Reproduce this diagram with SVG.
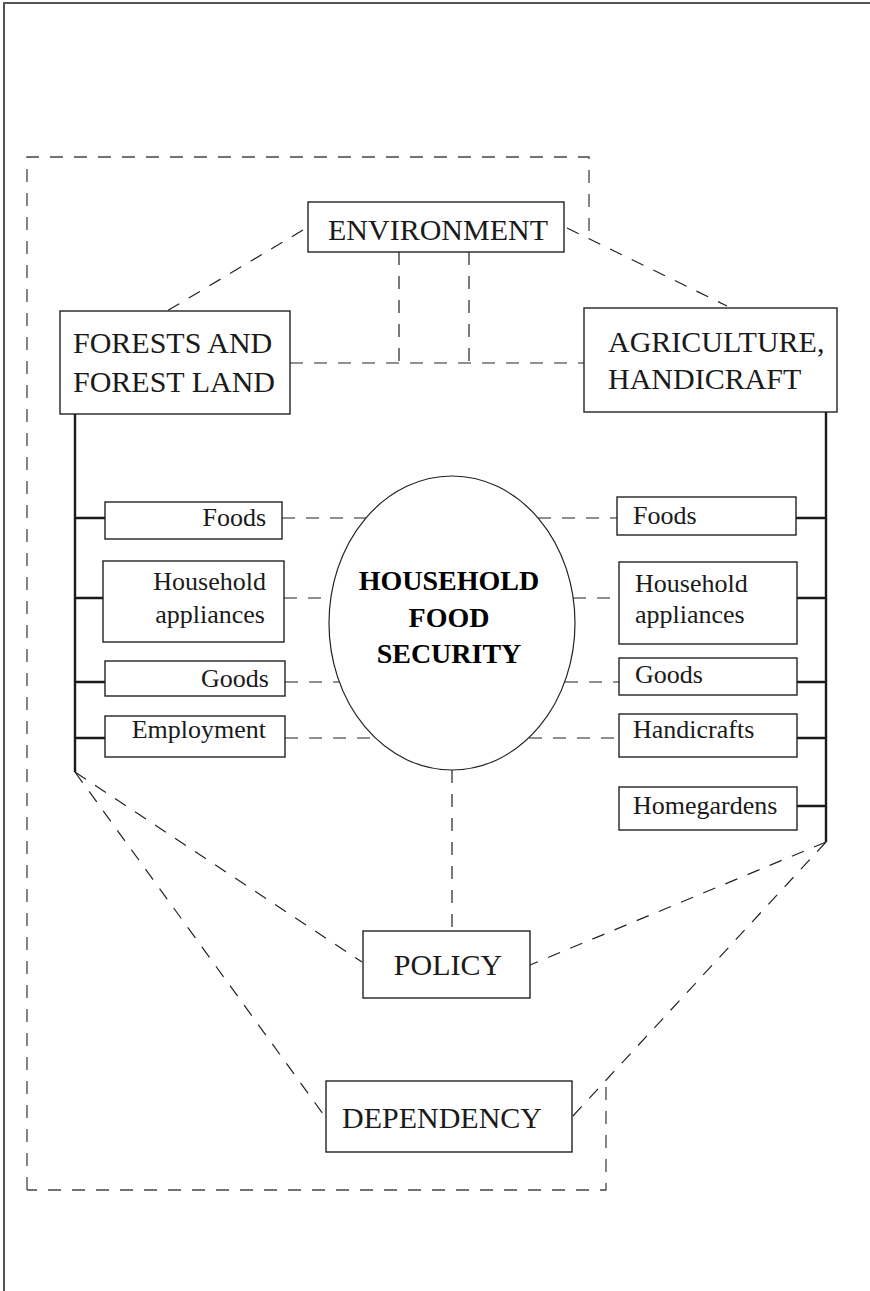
<svg xmlns="http://www.w3.org/2000/svg" width="870" height="1291" viewBox="0 0 870 1291">
<style>
.box{fill:#fff;stroke:#222;stroke-width:1.4}
.t{font-family:"Liberation Serif","Times New Roman",serif;fill:#1a1a1a}
.big{font-size:30px}
.sm{font-size:26px}
.bold{font-size:28px;font-weight:bold;fill:#000}
.dash{fill:none;stroke:#222;stroke-width:1.2;stroke-dasharray:13 11}
.outer{fill:none;stroke:#444;stroke-width:1.3;stroke-dasharray:13 11}
.spine{fill:none;stroke:#1a1a1a;stroke-width:2.4}
</style>
<rect width="870" height="1291" fill="#fff"/>
<path d="M4,1291 V3 H870" fill="none" stroke="#555" stroke-width="2"/>
<g id="connectors">
<path class="outer" d="M27,1190 V157 H589 V237"/>
<path class="outer" d="M606,1087 V1190 H27"/>
<path class="dash" d="M303,230 L167,311"/>
<path class="dash" d="M567,228 L727,306"/>
<path class="dash" d="M399,252 V363"/>
<path class="dash" d="M469,252 V363"/>
<path class="dash" d="M290,363 H584"/>
<path class="spine" d="M75,414 V772"/>
<path class="spine" d="M826,412 V842"/>
<path class="spine" d="M75,518 H105 M75,598 H103 M75,682 H105 M75,738 H105"/>
<path class="spine" d="M826,518 H796 M826,598 H797 M826,682 H797 M826,738 H797 M826,806 H797"/>
<path class="dash" d="M282,518 H366 M284,598 H331 M285,682 H339 M285,738 H375"/>
<path class="dash" d="M538,518 H617 M573,598 H619 M565,682 H619 M529,738 H619"/>
<path class="dash" d="M452,770 V931"/>
<path class="dash" d="M75,772 L362,962"/>
<path class="dash" d="M75,772 L326,1118"/>
<path class="dash" d="M826,842 L530,965"/>
<path class="dash" d="M826,842 L572,1117"/>
</g>
<g id="environment">
<rect class="box" x="308" y="202" width="256" height="50"/>
<text class="t big" x="438" y="240" text-anchor="middle">ENVIRONMENT</text>
</g>
<g id="forests">
<rect class="box" x="60" y="311" width="230" height="103"/>
<text class="t big" x="73" y="353">FORESTS AND</text>
<text class="t big" x="73" y="392">FOREST LAND</text>
</g>
<g id="agriculture">
<rect class="box" x="584" y="308" width="253" height="104"/>
<text class="t big" x="608" y="352">AGRICULTURE,</text>
<text class="t big" x="608" y="389">HANDICRAFT</text>
</g>
<g id="hfs">
<ellipse cx="452" cy="623" rx="123" ry="147" fill="#fff" stroke="#222" stroke-width="1.2"/>
<text class="t bold" x="449" y="590" text-anchor="middle">HOUSEHOLD</text>
<text class="t bold" x="449" y="627" text-anchor="middle">FOOD</text>
<text class="t bold" x="449" y="663" text-anchor="middle">SECURITY</text>
</g>
<g id="l-foods">
<rect class="box" x="105" y="502" width="177" height="37"/>
<text class="t sm" x="266" y="526" text-anchor="end">Foods</text>
</g>
<g id="l-household">
<rect class="box" x="103" y="561" width="181" height="81"/>
<text class="t sm" x="266" y="590" text-anchor="end">Household</text>
<text class="t sm" x="265" y="623" text-anchor="end">appliances</text>
</g>
<g id="l-goods">
<rect class="box" x="105" y="661" width="180" height="35"/>
<text class="t sm" x="269" y="687" text-anchor="end">Goods</text>
</g>
<g id="l-employment">
<rect class="box" x="105" y="716" width="180" height="41"/>
<text class="t sm" x="266" y="738" text-anchor="end">Employment</text>
</g>
<g id="r-foods">
<rect class="box" x="617" y="497" width="179" height="38"/>
<text class="t sm" x="633" y="524">Foods</text>
</g>
<g id="r-household">
<rect class="box" x="619" y="562" width="178" height="82"/>
<text class="t sm" x="635" y="592">Household</text>
<text class="t sm" x="635" y="623">appliances</text>
</g>
<g id="r-goods">
<rect class="box" x="619" y="658" width="178" height="37"/>
<text class="t sm" x="635" y="683">Goods</text>
</g>
<g id="r-handicrafts">
<rect class="box" x="619" y="714" width="178" height="43"/>
<text class="t sm" x="633" y="738">Handicrafts</text>
</g>
<g id="r-homegardens">
<rect class="box" x="619" y="787" width="178" height="43"/>
<text class="t sm" x="633" y="814">Homegardens</text>
</g>
<g id="policy">
<rect class="box" x="363" y="931" width="167" height="67"/>
<text class="t big" x="448" y="975" text-anchor="middle">POLICY</text>
</g>
<g id="dependency">
<rect class="box" x="326" y="1081" width="246" height="71"/>
<text class="t big" x="442" y="1128" text-anchor="middle">DEPENDENCY</text>
</g>
</svg>
